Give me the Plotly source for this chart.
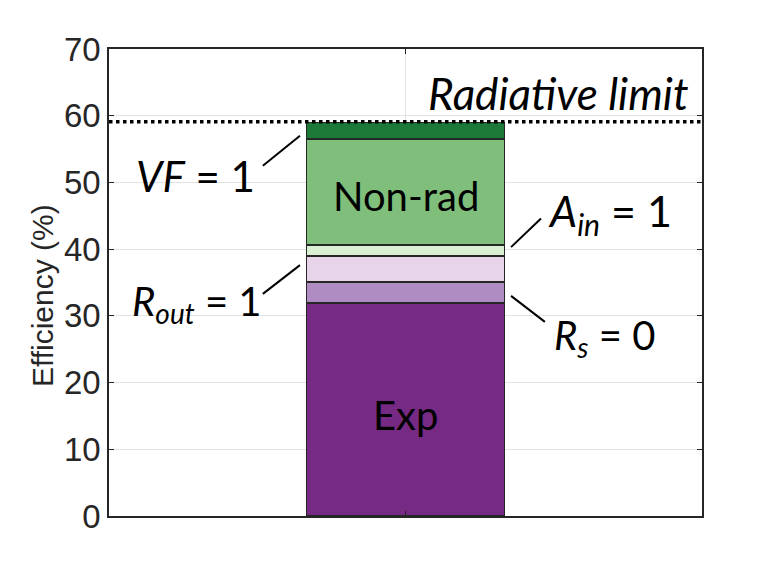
import plotly.graph_objects as go

# ---- data ----
segments = ["Exp", "R_s = 0", "R_out = 1", "A_in = 1", "Non-rad", "VF = 1"]
increments = [31.9, 3.2, 3.9, 1.6, 15.9, 2.5]
colors = ["#762a83", "#af8dc3", "#e7d4e8", "#d9f0d3", "#7fbf7b", "#1b7837"]
radiative_limit = 59.1
y_ticks = [0, 10, 20, 30, 40, 50, 60, 70]
y_title = "Efficiency (%)"
bar_x = 1

fig = go.Figure()
for name, val, col in zip(segments, increments, colors):
    fig.add_trace(go.Bar(
        x=[bar_x], y=[val], name=name, width=2 / 3,
        marker=dict(color=col, line=dict(color="#262626", width=1.5)),
        showlegend=False, hoverinfo="skip",
    ))

fig.add_shape(type="line", xref="paper", x0=0, x1=1, yref="y",
              y0=radiative_limit, y1=radiative_limit,
              line=dict(color="black", width=3.5, dash="dot"))

ann = [
    dict(x=1.515, y=63.4, text="<i>Radiative limit</i>", size=44),
    dict(x=bar_x, y=48.0, text="Non-rad", size=40),
    dict(x=bar_x, y=15.1, text="Exp", size=40),
    dict(x=0.293, y=51.0, text="<i>VF</i> = 1", size=42),
    dict(x=1.69, y=45.3, text="<i>A<sub>in</sub></i> = 1", size=43),
    dict(x=0.297, y=31.8, text="<i>R<sub>out</sub></i> = 1", size=40),
    dict(x=1.67, y=26.7, text="<i>R<sub>s</sub></i> = 0", size=40),
]
for a in ann:
    fig.add_annotation(x=a["x"], y=a["y"], text=a["text"], showarrow=False,
                       font=dict(family="Lato", size=a["size"], color="black"),
                       xanchor="center", yanchor="middle")

# y-axis title (placed as a rotated annotation to match the reference offset)
fig.add_annotation(xref="paper", yref="paper", x=-0.113, y=0.473, text=y_title,
                   textangle=-90, showarrow=False, xanchor="center", yanchor="middle",
                   font=dict(family="Liberation Sans", size=30, color="#262626"))

leaders = [
    (0.519, 52.5, 0.644, 57.0),
    (0.519, 33.3, 0.644, 37.6),
    (1.356, 40.3, 1.457, 44.6),
    (1.356, 33.0, 1.470, 29.1),
]
for x0, y0, x1, y1 in leaders:
    fig.add_shape(type="line", xref="x", yref="y", x0=x0, y0=y0, x1=x1, y1=y1,
                  line=dict(color="black", width=2))

axis_common = dict(showline=True, linecolor="#262626", linewidth=1.5, mirror="ticks",
                   ticks="inside", ticklen=5, tickcolor="#262626",
                   showgrid=True, gridcolor="#e3e3e3", gridwidth=1, zeroline=False)
fig.update_xaxes(range=[0, 2], tickvals=[bar_x], showticklabels=False, **axis_common)
fig.update_yaxes(range=[0, 70], tickvals=y_ticks,
                 tickfont=dict(family="Liberation Sans", size=33, color="#262626"),
                 **axis_common)
fig.update_layout(barmode="stack", width=764, height=578,
                  margin=dict(l=109, r=62, t=49, b=62),
                  plot_bgcolor="white", paper_bgcolor="white")
fig.write_html("out.html")
